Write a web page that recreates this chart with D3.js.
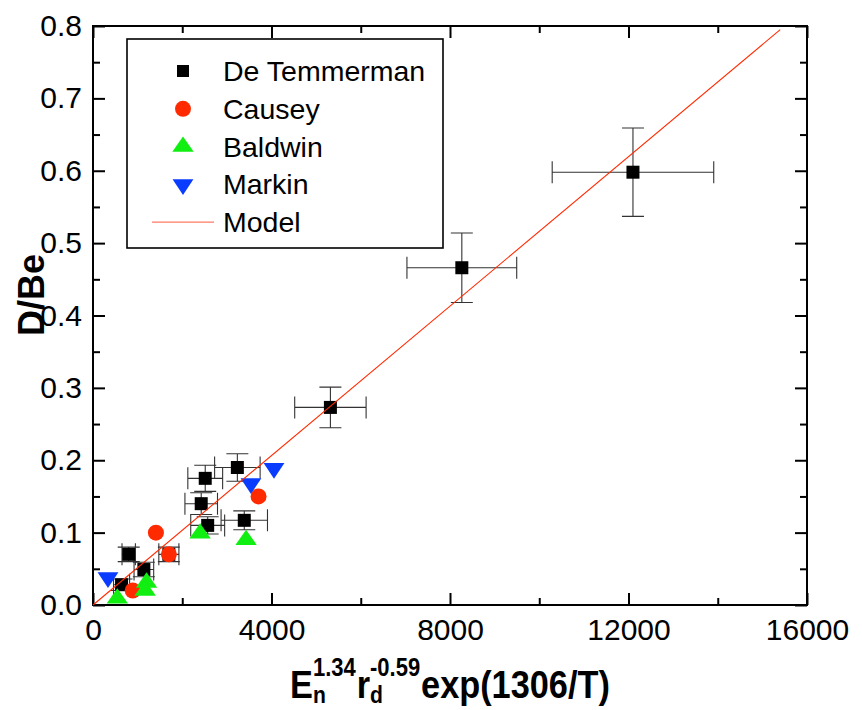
<!doctype html><html><head>
<style>
  body { margin: 0; background: #fff; }
  text { font-family: "Liberation Sans", Arial, sans-serif; }
</style>
</head><body><script src='https://d3js.org/d3.v7.min.js'></script>

<script>
// Dimensions
const xSize = 862;  const ySize = 710;
const mLeft = 93, mTop = 26;
const xMax  = 714;   // plot width
const yMax  = 579;   // plot height

// Data
// De Temmerman: x, y, x error, y error
const temX    = [800, 1140, 640, 1700, 2515, 2425, 2570, 3235, 3390, 5320, 8265, 12100];
const temY    = [0.070, 0.049, 0.028, 0.070, 0.175, 0.140, 0.110, 0.190, 0.117, 0.273, 0.466, 0.598];
const temXErr = [150, 220, 180, 225, 390, 365, 380, 510, 520, 800, 1230, 1810];
const temYErr = [0.010, 0.010, 0.008, 0.010, 0.018, 0.015, 0.012, 0.019, 0.013, 0.028, 0.048, 0.061];
// Causey
const causeyX = [1410, 1700, 890, 3710];
const causeyY = [0.100, 0.070, 0.020, 0.150];
// Baldwin
const baldwinX = [2400, 3430, 545, 1200, 1170];
const baldwinY = [0.099, 0.090, 0.009, 0.031, 0.020];
// Markin
const markinX = [336, 3540, 4056];
const markinY = [0.038, 0.168, 0.189];
// Model line
const modelX = [0, 15400];
const modelY = [0, 0.795];

const xTicks = [0, 4000, 8000, 12000, 16000];
const xMinor = [2000, 6000, 10000, 14000];
const yTicks = [0, 0.1, 0.2, 0.3, 0.4, 0.5, 0.6, 0.7, 0.8];
const yMinor = [0.05, 0.15, 0.25, 0.35, 0.45, 0.55, 0.65, 0.75];

const legendNames = ["De Temmerman", "Causey", "Baldwin", "Markin", "Model"];

const cRed = "#ff2a00", cGreen = "#11ee11", cBlue = "#0a3cff";

const zip = (a, b) => a.map((v, i) => ({x: v, y: b[i]}));

// SVG
const root = d3.select("body").append("svg")
  .attr("width", xSize).attr("height", ySize);
const svg = root.append("g")
  .attr("transform", `translate(${mLeft},${mTop})`);

// Scales
const x = d3.scaleLinear().domain([0, 16000]).range([0, xMax]);
const y = d3.scaleLinear().domain([0, 0.8]).range([yMax, 0]);

// Axes (ticks inward)
function styleAxis(g) {
  g.select(".domain").remove();
  g.selectAll("line").attr("stroke", "#000").attr("stroke-width", 2);
  g.selectAll("text").attr("font-size", 30).attr("fill", "#000")
   .attr("font-family", "'Liberation Sans', Arial, sans-serif");
}
svg.append("g").attr("transform", `translate(0,${yMax})`)
   .call(d3.axisBottom(x).tickValues(xTicks).tickFormat(d3.format("d")).tickSizeInner(-12).tickSizeOuter(0).tickPadding(14))
   .call(styleAxis);
svg.append("g").attr("transform", `translate(0,${yMax})`)
   .call(d3.axisBottom(x).tickValues(xMinor).tickFormat("").tickSizeInner(-7).tickSizeOuter(0))
   .call(styleAxis);
svg.append("g")
   .call(d3.axisTop(x).tickValues(xTicks).tickFormat("").tickSizeInner(-12).tickSizeOuter(0))
   .call(styleAxis);
svg.append("g")
   .call(d3.axisTop(x).tickValues(xMinor).tickFormat("").tickSizeInner(-7).tickSizeOuter(0))
   .call(styleAxis);
svg.append("g")
   .call(d3.axisLeft(y).tickValues(yTicks).tickFormat(d3.format(".1f")).tickSizeInner(-12).tickSizeOuter(0).tickPadding(11))
   .call(styleAxis);
svg.append("g")
   .call(d3.axisLeft(y).tickValues(yMinor).tickFormat("").tickSizeInner(-7).tickSizeOuter(0))
   .call(styleAxis);
svg.append("g").attr("transform", `translate(${xMax},0)`)
   .call(d3.axisRight(y).tickValues(yTicks).tickFormat("").tickSizeInner(-12).tickSizeOuter(0))
   .call(styleAxis);
svg.append("g").attr("transform", `translate(${xMax},0)`)
   .call(d3.axisRight(y).tickValues(yMinor).tickFormat("").tickSizeInner(-7).tickSizeOuter(0))
   .call(styleAxis);

// frame
svg.append("rect").attr("width", xMax).attr("height", yMax)
   .attr("fill", "none").attr("stroke", "#000").attr("stroke-width", 2);

// Error bars
const tem = temX.map((v, i) => ({x: v, y: temY[i], ex: temXErr[i], ey: temYErr[i]}));
const cap = 11;
const eb = svg.append("g").attr("stroke", "#333").attr("stroke-width", 1.1).attr("fill", "none");
tem.forEach(d => {
  const cx = x(d.x), cy = y(d.y);
  const x0 = x(d.x - d.ex), x1 = x(d.x + d.ex), y0 = y(d.y - d.ey), y1 = y(d.y + d.ey);
  eb.append("path").attr("d",
    `M${x0},${cy}H${x1}` +
    `M${x0},${cy - cap}V${cy + cap}M${x1},${cy - cap}V${cy + cap}` +
    `M${cx},${y0}V${y1}` +
    `M${cx - cap},${y0}H${cx + cap}M${cx - cap},${y1}H${cx + cap}`);
});

// Markers
const symSquare = d3.symbol().type(d3.symbolSquare).size(13 * 13);
const symCircle = d3.symbol().type(d3.symbolCircle).size(Math.PI * 8 * 8);
const symTri    = d3.symbol().type(d3.symbolTriangle).size(150);

svg.append("g").selectAll("path").data(tem).join("path")
   .attr("transform", d => `translate(${x(d.x)},${y(d.y)})`)
   .attr("d", symSquare).attr("fill", "#000");
svg.append("g").selectAll("path").data(zip(causeyX, causeyY)).join("path")
   .attr("transform", d => `translate(${x(d.x)},${y(d.y)})`)
   .attr("d", symCircle).attr("fill", cRed);
svg.append("g").selectAll("path").data(zip(baldwinX, baldwinY)).join("path")
   .attr("transform", d => `translate(${x(d.x)},${y(d.y)}) scale(1.15,0.95)`)
   .attr("d", symTri).attr("fill", cGreen);
svg.append("g").selectAll("path").data(zip(markinX, markinY)).join("path")
   .attr("transform", d => `translate(${x(d.x)},${y(d.y)}) rotate(180) scale(1.12,0.98)`)
   .attr("d", symTri).attr("fill", cBlue);

// Model line
svg.append("path").datum(zip(modelX, modelY))
   .attr("fill", "none").attr("stroke", cRed).attr("stroke-width", 1.1)
   .attr("d", d3.line().x(d => x(d.x)).y(d => y(d.y)));

// Legend
const lg = root.append("g");
lg.append("rect").attr("x", 127).attr("y", 39).attr("width", 316).attr("height", 209)
  .attr("fill", "#fff").attr("stroke", "#000").attr("stroke-width", 1.6);
const rowY = i => 71 + i * 37.8;
const symX = 183;
lg.append("path").attr("transform", `translate(${symX},${rowY(0)})`).attr("d", symSquare.size(12 * 12)).attr("fill", "#000");
lg.append("path").attr("transform", `translate(${symX},${rowY(1)})`).attr("d", symCircle).attr("fill", cRed);
lg.append("path").attr("transform", `translate(${symX},${rowY(2)}) scale(1.15,0.95)`).attr("d", symTri).attr("fill", cGreen);
lg.append("path").attr("transform", `translate(${symX},${rowY(3)}) rotate(180) scale(1.12,0.98)`).attr("d", symTri).attr("fill", cBlue);
lg.append("line").attr("x1", 152).attr("x2", 214).attr("y1", rowY(4)).attr("y2", rowY(4))
  .attr("stroke", "#ff7a66").attr("stroke-width", 1.2);
lg.selectAll("text.lab").data(legendNames).join("text").attr("class", "lab")
  .attr("x", 223).attr("y", (d, i) => rowY(i) + 10)
  .attr("font-size", 28.5).text(d => d);

// Y axis title
root.append("text")
  .attr("transform", "translate(44,295) rotate(-90)")
  .attr("text-anchor", "middle").attr("font-size", 36).attr("font-weight", "bold")
  .text("D/Be");

// X axis title: E_n^1.34 r_d^-0.59 exp(1306/T), laid out piece by piece
const xt = root.append("g").attr("font-weight", "bold");
const pieces = [
  {t: "E", fs: 39, dy: 0},
  {t: "n", fs: 24, dy: 5, stack: true},
  {t: "1.34", fs: 25, dy: -22},
  {t: "r", fs: 39, dy: 0},
  {t: "d", fs: 24, dy: 5, stack: true},
  {t: "-0.59", fs: 25, dy: -22},
  {t: "exp(1306/T)", fs: 39, dy: 0}
];
let cur = 0;
pieces.forEach(p => {
  const n = xt.append("text").attr("font-size", p.fs).attr("x", cur).attr("y", p.dy).text(p.t);
  const w = n.node().getComputedTextLength();
  if (!p.stack) cur += w + (p.fs < 30 ? 1 : 0);
});
const sx = 0.88;
const totalW = cur * sx;
xt.attr("transform", `translate(${mLeft + xMax / 2 - totalW / 2},698) scale(${sx},1)`);
</script></body></html>
